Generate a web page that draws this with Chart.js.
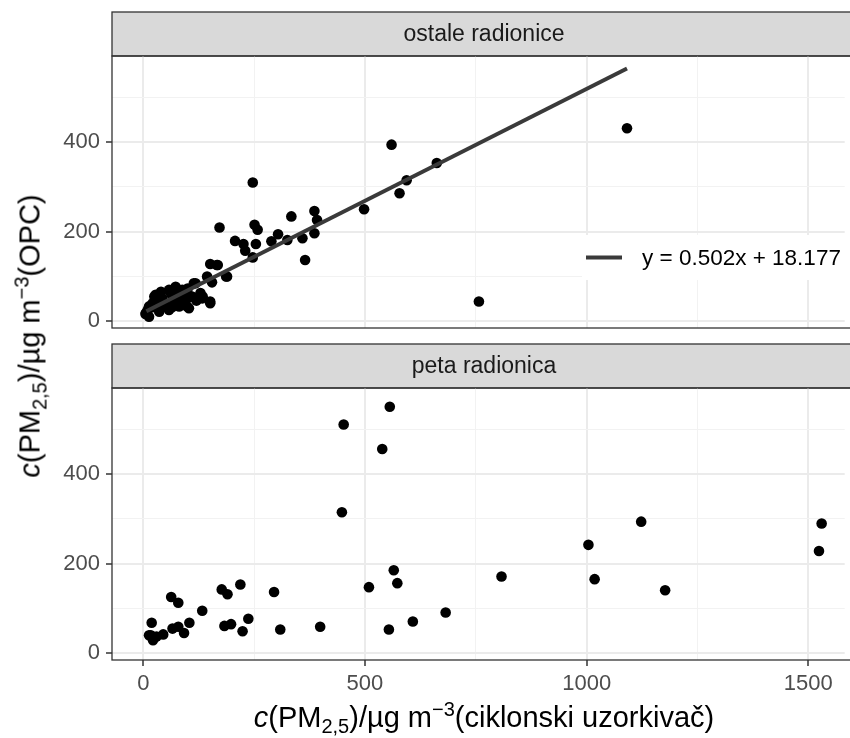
<!DOCTYPE html>
<html>
<head>
<meta charset="utf-8">
<script src="https://cdn.jsdelivr.net/npm/chart.js@4/dist/chart.umd.min.js"></script>
<style>
  html, body { margin:0; padding:0; background:#fff; }
  #wrap { position:relative; width:850px; height:738px; overflow:hidden; background:#fff;
          font-family:"Liberation Sans", Arial, Helvetica, sans-serif; }
  .cv { position:absolute; left:0; width:850px; }
  .title { position:absolute; font-size:29px; color:#000; white-space:nowrap; line-height:1; }
  .title sub, .title sup { font-size:20px; line-height:0; }
  #ytitle { left:30px; top:336px; transform:translate(-50%,-50%) rotate(-90deg); }
  #xtitle { left:484px; top:717px; transform:translate(-50%,-50%); }
</style>
</head>
<body>
<div id="wrap">
  <div class="cv" style="top:0;height:340px"><canvas id="c1"></canvas></div>
  <div class="cv" style="top:340px;height:398px"><canvas id="c2"></canvas></div>
  <div id="ytitle" class="title"><i>c</i>(PM<sub>2,5</sub>)/µg m<sup>−3</sup>(OPC)</div>
  <div id="xtitle" class="title"><i>c</i>(PM<sub>2,5</sub>)/µg m<sup>−3</sup>(ciklonski uzorkivač)</div>
</div>
<script>
// ---------------- data ----------------
const panelLabels = ["ostale radionice", "peta radionica"];

const ostaleX = [560,247,662,594,578,498,386,392,386,334,359,365,325,304,289,251,258,254,247,172,207,226,230,151,168,187,144,155,134,151,118,103,107,88,73,58,58,81,95,69,43,25,21,36,13,6,13,10,757,1091,
                 28,43,73,81,99,110,114,129,133,151,58,36,65,5,30,50,63,78,92,120,40,100,20,166,189];
const ostaleY = [395,310,354,315,286,250,246,226,196,234,185,136,181,194,178,215,204,172,142,209,179,172,157,127,125,99,99,86,54,39,84,28,54,69,73,69,28,32,43,47,50,54,39,20,32,17,9,24,43,432,
                 58,43,76,47,32,54,84,62,50,43,24,28,30,15,45,35,60,62,55,45,65,72,30,125,99];

const petaX = [556,452,539,448,565,573,509,554,608,682,399,309,295,219,177,190,183,198,237,224,133,104,92,79,66,63,79,45,19,17,22,13,30,808,1004,1018,1123,1177,1530,1524];
const petaY = [552,512,457,315,185,156,147,52,70,90,58,52,136,153,142,131,60,64,76,48,94,67,44,58,54,125,112,41,67,39,28,39,36,171,242,165,294,140,290,228];

// fitted line endpoints and its legend label
const fitX = [7, 1091];
const fitY = [21, 566];
const fitLabel = "y = 0.502x + 18.177";

const xTickMajor = [0, 500, 1000, 1500];
const yTickMajor = [0, 200, 400];

// ---------------- helpers ----------------
const FONT = '"Liberation Sans", Arial, Helvetica, sans-serif';
const toPts = (xs, ys) => xs.map((x, i) => ({x: x, y: ys[i]}));

const facetPlugin = {
  id: 'facet',
  beforeDraw(chart, args, opts) {
    const ctx = chart.ctx, a = chart.chartArea;
    ctx.save();
    ctx.fillStyle = '#d9d9d9';
    ctx.fillRect(a.left, opts.stripTop, chart.width + 20 - a.left, a.top - opts.stripTop);
    ctx.strokeStyle = '#333333';
    ctx.lineWidth = 1.3;
    ctx.strokeRect(a.left, opts.stripTop, chart.width + 20 - a.left, a.top - opts.stripTop);
    ctx.fillStyle = '#1a1a1a';
    ctx.font = '23px ' + FONT;
    ctx.textAlign = 'center';
    ctx.textBaseline = 'middle';
    ctx.fillText(opts.label, opts.labelX, (opts.stripTop + a.top) / 2 + 1);
    ctx.restore();
  },
  afterDraw(chart, args, opts) {
    const ctx = chart.ctx, a = chart.chartArea;
    ctx.save();
    ctx.strokeStyle = '#333333';
    ctx.lineWidth = 1.3;
    ctx.strokeRect(a.left, a.top, chart.width + 20 - a.left, a.bottom - a.top);
    ctx.restore();
  }
};

const eqLegendPlugin = {
  id: 'eqLegend',
  afterDatasetsDraw(chart, args, opts) {
    if (!opts.show) return;
    const ctx = chart.ctx;
    const ds = chart.data.datasets[0];
    ctx.save();
    ctx.fillStyle = '#ffffff';
    ctx.fillRect(opts.boxX, opts.boxY, opts.boxW, opts.boxH);
    const cy = opts.boxY + opts.boxH / 2;
    ctx.strokeStyle = ds.borderColor;
    ctx.lineWidth = ds.borderWidth;
    ctx.beginPath();
    ctx.moveTo(opts.boxX + 4, cy);
    ctx.lineTo(opts.boxX + 40, cy);
    ctx.stroke();
    ctx.fillStyle = '#000000';
    ctx.font = '22.5px ' + FONT;
    ctx.textAlign = 'left';
    ctx.textBaseline = 'middle';
    ctx.fillText(ds.label, opts.boxX + 60, cy + 1);
    ctx.restore();
  }
};

function gridOpts(majors) {
  const isMajor = c => c.tick && majors.includes(c.tick.value);
  return {
    color: c => isMajor(c) ? '#ebebeb' : '#f2f2f2',
    lineWidth: c => isMajor(c) ? 2 : 1,
    tickColor: c => isMajor(c) ? '#333333' : 'rgba(0,0,0,0)',
    tickWidth: 1.5,
    tickLength: 6,
    drawOnChartArea: true
  };
}

function makeChart(id, pts, withFit, isBottom, facetOpts, padTop, padBottom) {
  const datasets = [];
  if (withFit) {
    datasets.push({
      type: 'line', label: fitLabel, data: toPts(fitX, fitY),
      borderColor: '#3a3a3a', borderWidth: 4, pointRadius: 0, fill: false, tension: 0
    });
  }
  datasets.push({
    type: 'scatter', label: 'points', data: pts,
    pointRadius: 5.3, pointHoverRadius: 5.3, backgroundColor: '#000000', borderWidth: 0
  });
  return new Chart(document.getElementById(id), {
    type: 'scatter',
    data: { datasets },
    options: {
      responsive: true, maintainAspectRatio: false, animation: false,
      layout: { padding: { top: padTop, bottom: padBottom, left: 0, right: 0 } },
      plugins: {
        legend: { display: false }, tooltip: { enabled: false },
        facet: facetOpts,
        eqLegend: withFit ? { show: true, boxX: 582, boxY: 235, boxW: 280, boxH: 45 } : { show: false }
      },
      scales: {
        x: {
          type: 'linear', min: -70.5, max: 1582,
          border: { display: false },
          grid: Object.assign(gridOpts(xTickMajor), { drawTicks: isBottom }),
          ticks: {
            display: isBottom, stepSize: 250, includeBounds: false, autoSkip: false, maxRotation: 0,
            color: '#4d4d4d', font: { size: 22, family: FONT }, padding: 5,
            callback: v => xTickMajor.includes(v) ? String(v) : ''
          },
          afterFit: s => {
            s.height = isBottom ? 78 : 0;
            s.paddingLeft = 0; s.paddingRight = 0;
          }
        },
        y: {
          type: 'linear', min: -16.5, max: 594,
          border: { display: false },
          grid: gridOpts(yTickMajor),
          ticks: {
            stepSize: 100, includeBounds: false, autoSkip: false,
            color: '#4d4d4d', font: { size: 22, family: FONT }, padding: 6,
            callback: v => yTickMajor.includes(v) ? String(v) : ''
          },
          afterFit: s => {
            s.width = 112;
            s.paddingTop = 0; s.paddingBottom = 0;
          }
        }
      }
    },
    plugins: [facetPlugin, eqLegendPlugin]
  });
}

makeChart('c1', toPts(ostaleX, ostaleY), true, false,
  { label: panelLabels[0], stripTop: 12, labelX: 484 }, 56, 12);
makeChart('c2', toPts(petaX, petaY), false, true,
  { label: panelLabels[1], stripTop: 4, labelX: 484 }, 48, 0);
</script>
</body>
</html>
